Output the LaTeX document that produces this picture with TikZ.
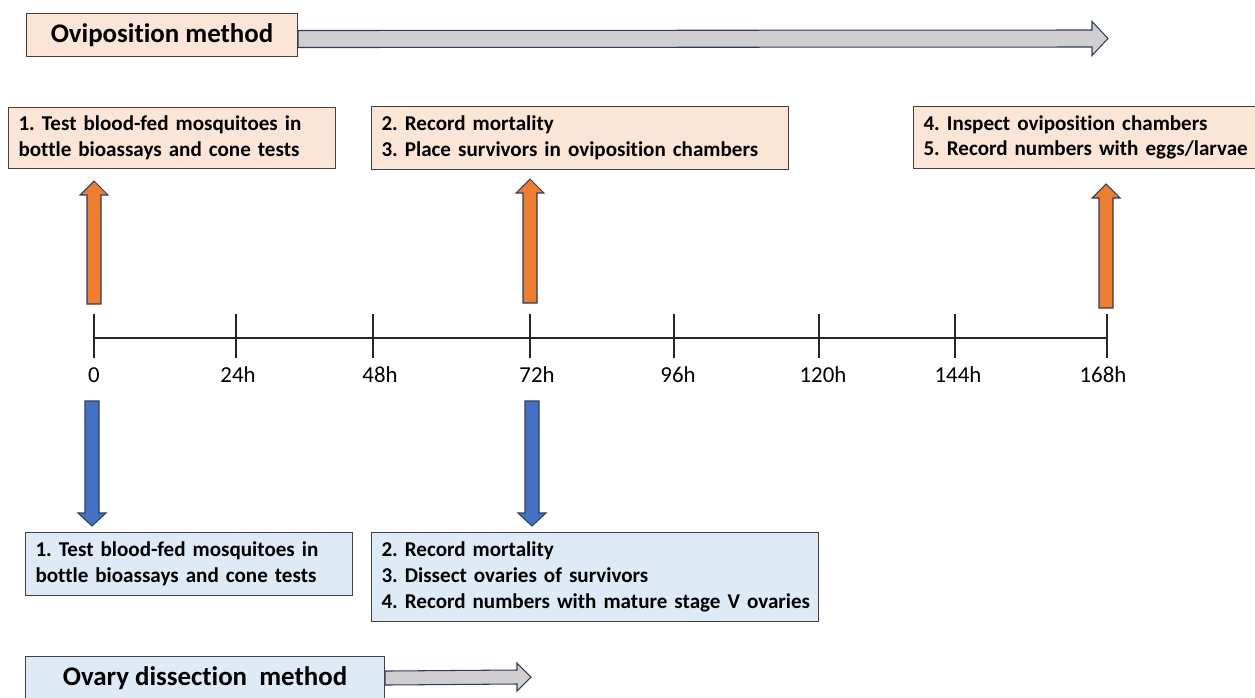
\documentclass[tikz,border=0pt]{standalone}
\usepackage{fontspec}
\setmainfont{Carlito}[Ligatures=CommonOff]
\usetikzlibrary{calc}
\frenchspacing
\definecolor{ovifill}{HTML}{FBE5D6}
\definecolor{ovafill}{HTML}{DEEBF7}
\definecolor{boxline}{HTML}{404040}
\definecolor{arrline}{HTML}{2F3D5C}
\definecolor{orangefill}{HTML}{ED7D31}
\definecolor{bluefill}{HTML}{4472C4}
\definecolor{grayfill}{HTML}{D0CECE}

% vertical block arrow: style, tail, tip, signed head length
\newcommand{\vblock}[4]{%
\draw[#1] ($(#2)+(-7,0)$) -- ($(#3)+(-7,#4)$) -- ($(#3)+(-14,#4)$) -- (#3)
  -- ($(#3)+(14,#4)$) -- ($(#3)+(7,#4)$) -- ($(#2)+(7,0)$) -- cycle;}
% horizontal block arrow: style, tail, tip, half shaft, half head, head length
\newcommand{\hblock}[6]{%
\draw[#1] ($(#2)+(0,-#4)$) -- ($(#3)+(-#6,-#4)$) -- ($(#3)+(-#6,-#5)$) -- (#3)
  -- ($(#3)+(-#6,#5)$) -- ($(#3)+(-#6,#4)$) -- ($(#2)+(0,#4)$) -- cycle;}

\begin{document}
\begin{tikzpicture}[x=0.02cm, y=-0.02cm,
  textbox/.style={draw=boxline, line width=0.6pt, anchor=north west, align=left,
    inner xsep=0.2cm, font=\bfseries\fontsize{12}{14.6}\selectfont},
  ovibox/.style={textbox, fill=ovifill},
  ovabox/.style={textbox, fill=ovafill},
  titlebox/.style={draw=boxline, line width=0.6pt, anchor=north west, align=center,
    minimum height=0.86cm, font=\bfseries\fontsize{15.3}{18}\selectfont},
  timeline/.style={line width=0.6pt, black!85},
  ticklabel/.style={font=\fontsize{13}{15}\selectfont, inner sep=0pt},
  orangearr/.style={draw=arrline, fill=orangefill, line width=0.6pt},
  bluearr/.style={draw=arrline, fill=bluefill, line width=0.6pt},
  grayarr/.style={draw=arrline, fill=grayfill, line width=0.6pt}]
\useasboundingbox (0,0) rectangle (1255,697);

% method titles
\node[titlebox, fill=ovifill, minimum width=5.42cm] (ovititle) at (26,13) {Oviposition method};
\node[titlebox, fill=ovafill, minimum width=7.18cm] (ovatitle) at (25,656) {Ovary dissection~~method};
\coordinate (oviarrtail) at ($(ovititle.east)+(0,4)$);
\coordinate (oviarrtip) at (1108,38.5);
\coordinate (ovaarrtip) at (531,677);
\hblock{grayarr}{oviarrtail}{oviarrtip}{8.5}{17}{16}
\hblock{grayarr}{ovatitle.east}{ovaarrtip}{7}{14}{14}

% oviposition steps
\node[ovibox, text width=6.14cm, minimum height=1.22cm] (ovistep1) at (8,107)
  {1. Test blood-fed mosquitoes in\\bottle bioassays and cone tests};
\node[ovibox, text width=7.94cm, minimum height=1.26cm] (ovistep2) at (371,106)
  {2. Record mortality\\3. Place survivors in oviposition chambers};
\node[ovibox, text width=6.8cm, minimum height=1.24cm] (ovistep3) at (913,106)
  {4. Inspect oviposition chambers\\5. Record numbers with eggs/larvae};

% ovary dissection steps
\node[ovabox, text width=6.14cm, minimum height=1.26cm] (ovastep1) at (25,532)
  {1. Test blood-fed mosquitoes in\\bottle bioassays and cone tests};
\node[ovabox, text width=8.54cm, minimum height=1.78cm] (ovastep2) at (371,532)
  {2. Record mortality\\3. Dissect ovaries of survivors\\\mbox{4. Record numbers with mature stage V ovaries}};

% time axis
\coordinate (tstart) at (94,338);
\coordinate (tend) at (1107,338);
\draw[timeline] (tstart) -- (tend);
\foreach \tx/\lab/\lx [count=\i] in {94/0/94, 236/24h/238, 373/48h/380, 530/72h/537,
    674/96h/678, 819/120h/823, 955/144h/958, 1107/168h/1103}{
  \draw[timeline] (\tx,314) -- (\tx,358);
  \node[ticklabel] (hour\i) at (\lx,375) {\lab};
}

% block arrows
\coordinate (oa1tail) at (94,304);   \coordinate (oa1tip) at (94,181);
\coordinate (oa2tail) at (530,303);  \coordinate (oa2tip) at (530,179);
\coordinate (oa3tail) at (1106,308); \coordinate (oa3tip) at (1106,184);
\coordinate (ba1tail) at (92,401);   \coordinate (ba1tip) at (92,526);
\coordinate (ba2tail) at (532,401);  \coordinate (ba2tip) at (532,526);
\vblock{orangearr}{oa1tail}{oa1tip}{14}
\vblock{orangearr}{oa2tail}{oa2tip}{14}
\vblock{orangearr}{oa3tail}{oa3tip}{14}
\vblock{bluearr}{ba1tail}{ba1tip}{-13}
\vblock{bluearr}{ba2tail}{ba2tip}{-13}
\end{tikzpicture}
\end{document}
